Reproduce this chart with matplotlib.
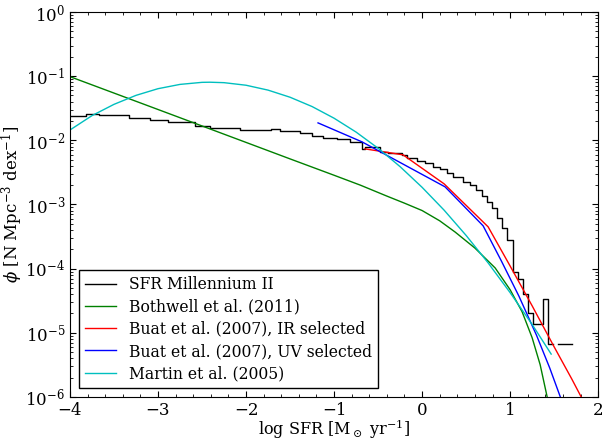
import numpy as np
import matplotlib
matplotlib.use("Agg")
import matplotlib.pyplot as plt
from matplotlib.ticker import MultipleLocator, LogLocator, NullFormatter

# serif look of the old classic style
plt.rcParams.update({
    "font.family": "serif",
    "font.serif": ["DejaVu Serif"],
    "mathtext.fontset": "dejavuserif",
    "font.size": 11,
})

# SFR Millennium II histogram: bin edges (log SFR) and log10(phi) per bin
sfr_edges = [-4.000, -3.818, -3.670, -3.330, -3.091, -2.886, -2.580, -2.409,
             -2.182, -2.068, -1.716, -1.614, -1.386, -1.250, -1.125, -0.966,
             -0.818, -0.682, -0.648, -0.477, -0.386, -0.227, -0.170, -0.057,
             0.034, 0.125, 0.205, 0.284, 0.352, 0.466, 0.545, 0.614,
             0.682, 0.739, 0.795, 0.852, 0.909, 0.966, 1.034, 1.091,
             1.148, 1.205, 1.261, 1.375, 1.432, 1.489, 1.545, 1.705]
sfr_logphi = [-1.615, -1.593, -1.612, -1.651, -1.682, -1.721, -1.776, -1.802,
              -1.815, -1.838, -1.822, -1.854, -1.889, -1.927, -1.967, -1.983,
              -2.025, -2.134, -2.098, -2.176, -2.201, -2.227, -2.274, -2.316,
              -2.357, -2.410, -2.450, -2.512, -2.575, -2.648, -2.695, -2.773,
              -2.866, -2.960, -3.053, -3.209, -3.364, -3.551, -4.050, -4.159,
              -4.393, -4.688, -4.860, -4.470, -5.171, np.nan, -5.171]

# Bothwell et al. (2011)
both_x = [-4.000, -3.000, -2.000, -1.500, -1.000, -0.700, -0.400, -0.200,
          0.000, 0.200, 0.375, 0.600, 0.830, 1.000, 1.136, 1.250, 1.341, 1.420]
both_logphi = [-1.008, -1.520, -2.033, -2.290, -2.545, -2.700, -2.870, -2.980,
               -3.095, -3.255, -3.430, -3.680, -3.990, -4.330, -4.673, -5.078,
               -5.498, -5.997]

# Buat et al. (2007), IR selected
buat_ir_x = [-0.648, -0.216, 0.250, 0.750, 1.000, 1.250, 1.500, 1.700, 1.807]
buat_ir_logphi = [-2.134, -2.227, -2.679, -3.349, -3.960, -4.580, -5.220,
                  -5.720, -6.000]

# Buat et al. (2007), UV selected
buat_uv_x = [-1.182, -0.682, 0.261, 0.693, 0.900, 1.100, 1.300, 1.450, 1.570]
buat_uv_logphi = [-1.729, -2.025, -2.726, -3.333, -3.880, -4.430, -5.040,
                  -5.550, -6.000]

# Martin et al. (2005)
martin_x = [-4.00, -3.75, -3.50, -3.25, -3.00, -2.75, -2.50, -2.41, -2.25,
            -2.00, -1.75, -1.50, -1.25, -1.00, -0.75, -0.50, -0.25, 0.00,
            0.25, 0.50, 0.75, 1.00, 1.25, 1.466]
martin_logphi = [-1.840, -1.616, -1.440, -1.300, -1.196, -1.129, -1.097,
                 -1.095, -1.102, -1.142, -1.218, -1.329, -1.474, -1.656,
                 -1.872, -2.124, -2.411, -2.733, -3.089, -3.483, -3.911,
                 -4.375, -4.871, -5.332]

fig = plt.figure(figsize=(6.03, 4.43), dpi=100)
ax = fig.add_axes([0.116, 0.104, 0.876, 0.869])

LW = 1.0
hist_y = 10 ** np.array(sfr_logphi + [sfr_logphi[-1]])
ax.step(sfr_edges, hist_y, where='post', color='k', lw=LW, label='SFR Millennium II')
ax.plot(both_x, 10 ** np.array(both_logphi), color='g', lw=LW, label='Bothwell et al. (2011)')
ax.plot(buat_ir_x, 10 ** np.array(buat_ir_logphi), color='r', lw=LW,
        label='Buat et al. (2007), IR selected')
ax.plot(buat_uv_x, 10 ** np.array(buat_uv_logphi), color='b', lw=LW,
        label='Buat et al. (2007), UV selected')
ax.plot(martin_x, 10 ** np.array(martin_logphi), color='c', lw=LW, label='Martin et al. (2005)')

ax.set_yscale('log')
ax.set_xlim(-4, 2)
ax.set_ylim(1e-6, 1)

ax.xaxis.set_minor_locator(MultipleLocator(0.2))
ax.yaxis.set_major_locator(LogLocator(base=10, numticks=10))
ax.yaxis.set_minor_locator(LogLocator(base=10, subs=np.arange(2, 10), numticks=20))
ax.yaxis.set_minor_formatter(NullFormatter())
ax.tick_params(which='both', direction='in', top=True, right=True, labelsize=12)
ax.tick_params(which='major', length=4.5, width=0.8)
ax.tick_params(which='minor', length=2.5, width=0.6)
ax.tick_params(axis='x', pad=4)

ax.set_xlabel(r'log SFR [M$_\odot$ yr$^{-1}$]', fontsize=11.5, labelpad=-1)
ax.set_ylabel(r'$\phi$ [N Mpc$^{-3}$ dex$^{-1}$]', fontsize=12)
ax.yaxis.set_label_coords(-0.085, 0.5)

leg = ax.legend(loc='lower left', fontsize=11.25, fancybox=False, framealpha=1,
                edgecolor='k', borderaxespad=0.55, handlelength=2.0,
                labelspacing=0.33)
leg.get_frame().set_linewidth(1.0)

fig.savefig('out.png', dpi=100)
